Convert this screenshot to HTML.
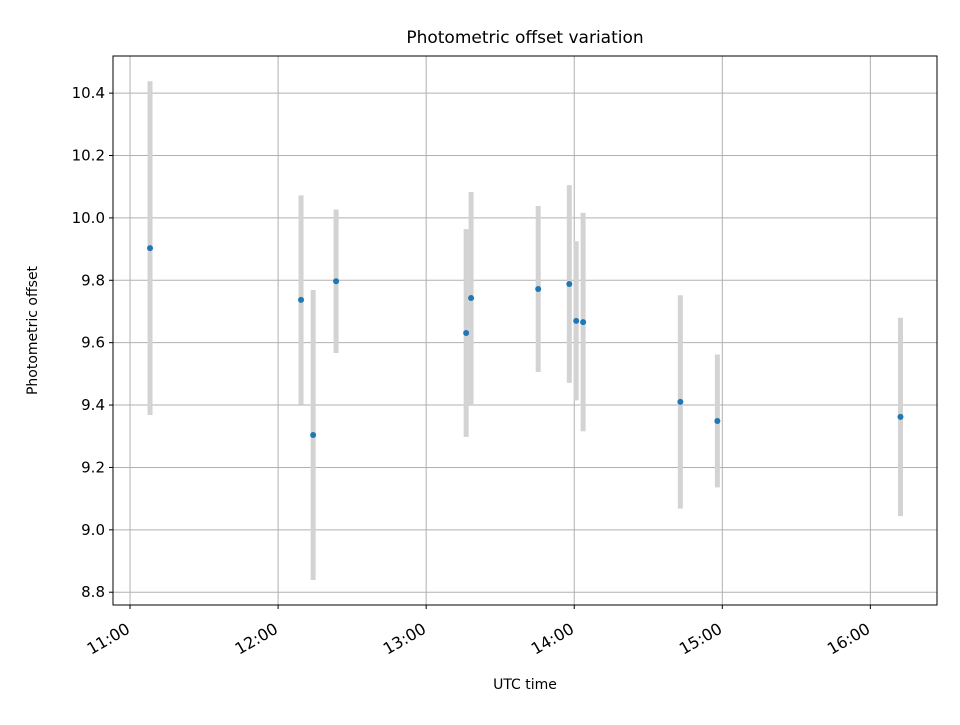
<!DOCTYPE html>
<html><head><meta charset="utf-8"><style>
body{margin:0;background:#fff;font-family:"Liberation Sans","DejaVu Sans",sans-serif}
svg text{font-family:"DejaVu Sans","Liberation Sans",sans-serif;fill:#000}
</style></head><body>
<svg id="chart" width="960" height="720" xmlns="http://www.w3.org/2000/svg"></svg>
<script>
const timesMin=[8.1,69.3,74.2,83.5,136.2,138.2,165.4,178,180.8,183.6,223,238,312.2];
const offsets=[9.903,9.737,9.304,9.797,9.631,9.743,9.772,9.788,9.670,9.666,9.410,9.349,9.362];
const errors=[0.535,0.335,0.465,0.23,0.333,0.34,0.266,0.317,0.255,0.35,0.342,0.213,0.318];
const yTicks=[8.8,9.0,9.2,9.4,9.6,9.8,10.0,10.2,10.4];
const xTickMin=[0,60,120,180,240,300];
const xTickLabels=["11:00","12:00","13:00","14:00","15:00","16:00"];
const L=113,R=937,T=56,B=605;
const xMin=-6.9,xMax=327,yMin=8.759,yMax=10.519;
const sx=v=>L+(v-xMin)/(xMax-xMin)*(R-L);
const sy=v=>B-(v-yMin)/(yMax-yMin)*(B-T);
const svg=document.getElementById('chart');
const NS='http://www.w3.org/2000/svg';
function mk(tag,attrs,name,parent){const e=document.createElementNS(NS,tag);for(const k in attrs)e.setAttribute(k,attrs[k]);


(parent||svg).appendChild(e);return e;}
mk('rect',{x:L,y:T,width:R-L,height:B-T,fill:'#fff'},'plot-area');
const grid=mk('g',{},'grid');
yTicks.forEach(v=>{const y=sy(v);
mk('line',{x1:L,x2:R,y1:y,y2:y,stroke:'#b0b0b0','stroke-width':1},'y-gridline',grid);
mk('line',{x1:L-4,x2:L,y1:y,y2:y,stroke:'#000','stroke-width':1},'y-tick',grid);
const t=mk('text',{x:L-8,y:y+5,'text-anchor':'end','font-size':15},'y-tick-label',grid);t.textContent=v.toFixed(1);});
xTickMin.forEach((v,i)=>{const x=sx(v);
mk('line',{x1:x,x2:x,y1:T,y2:B,stroke:'#b0b0b0','stroke-width':1},'x-gridline',grid);
mk('line',{x1:x,x2:x,y1:B,y2:B+4,stroke:'#000','stroke-width':1},'x-tick',grid);
const ax=x+1,ay=B+27;
const t=mk('text',{x:ax,y:ay,'text-anchor':'end','font-size':16,transform:`rotate(-30 ${ax} ${ay})`},'x-tick-label',grid);t.textContent=xTickLabels[i];});
const eb=mk('g',{},'error-bars');
timesMin.forEach((t,i)=>{const x=sx(t);
mk('line',{x1:x,x2:x,y1:sy(offsets[i]+errors[i]),y2:sy(offsets[i]-errors[i]),stroke:'#d3d3d3','stroke-width':5},'error-bar',eb);});
const pts=mk('g',{},'data-points');
timesMin.forEach((t,i)=>{mk('circle',{cx:sx(t),cy:sy(offsets[i]),r:3,fill:'#1f77b4'},'data-point',pts);});
mk('rect',{x:L,y:T,width:R-L,height:B-T,fill:'none',stroke:'#000','stroke-width':1},'plot-frame');
let t=mk('text',{x:(L+R)/2,y:43,'text-anchor':'middle','font-size':17},'chart-title');t.textContent='Photometric offset variation';
t=mk('text',{x:(L+R)/2,y:689,'text-anchor':'middle','font-size':14},'x-axis-title');t.textContent='UTC time';
t=mk('text',{x:37,y:(T+B)/2,'text-anchor':'middle','font-size':14,transform:`rotate(-90 37 ${(T+B)/2})`},'y-axis-title');t.textContent='Photometric offset';
</script>
</body></html>
